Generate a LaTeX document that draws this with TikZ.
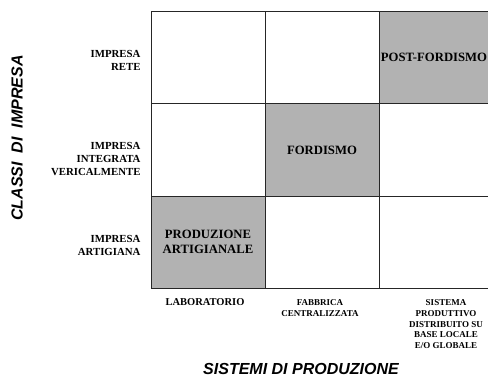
\documentclass[tikz,border=0pt]{standalone}
\usepackage{fontspec}
\setmainfont{Liberation Serif}
\newfontfamily\axisfont{Liberation Sans}
\usetikzlibrary{positioning}

\begin{document}
\begin{tikzpicture}[x=1pt, y=-1pt,
		cell/.style={draw=black!85, line width=0.8pt},
		shaded/.style={cell, fill=black!30},
		celltext/.style={font=\bfseries\fontsize{12.7}{15}\selectfont, align=center},
		rowlabel/.style={font=\bfseries\fontsize{10.8}{13}\selectfont, align=right, anchor=east},
		collabel/.style={font=\bfseries\fontsize{9}{10.8}\selectfont, align=center, anchor=north},
		axistitle/.style={font=\axisfont\bfseries\itshape\fontsize{16}{18}\selectfont}]
			%%%%% START %%%%%
			\useasboundingbox (0, 0) rectangle (488, 379);
			
			\draw[cell] (151, 11) rectangle (265, 103);
			\draw[cell] (265, 11) rectangle (379, 103);
			\draw[shaded] (379, 11) rectangle (493, 103);
			
			\draw[cell] (151, 103) rectangle (265, 196);
			\draw[shaded] (265, 103) rectangle (379, 196);
			\draw[cell] (379, 103) rectangle (493, 196);
			
			\draw[shaded] (151, 196) rectangle (265, 288);
			\draw[cell] (265, 196) rectangle (379, 288);
			\draw[cell] (379, 196) rectangle (493, 288);
			
			\node[celltext] (postford) at (434, 57) {POST-FORDISMO};
			\node[celltext] (ford) at (322, 150) {FORDISMO};
			\node[celltext] (artig) at (208, 242) {PRODUZIONE\\ARTIGIANALE};
			
			\node[rowlabel] (rete) at (144, 60) {IMPRESA\\RETE};
			\node[rowlabel] (integrata) at (144, 159) {IMPRESA\\INTEGRATA\\VERICALMENTE};
			\node[rowlabel] (artigiana) at (144, 245) {IMPRESA\\ARTIGIANA};
			
			\node[collabel, font=\bfseries\fontsize{10.5}{12}\selectfont] (lab) at (205, 295) {LABORATORIO};
			\node[collabel] (fabbrica) at (320, 296) {FABBRICA\\CENTRALIZZATA};
			\node[collabel] (sistema) at (446, 296) {SISTEMA\\PRODUTTIVO\\DISTRIBUITO SU\\BASE LOCALE\\E/O GLOBALE};
			
			\node[axistitle] (sistemi) at (301, 369) {SISTEMI DI PRODUZIONE};
			\node[axistitle, rotate=90] (classi) at (17, 138) {CLASSI\ \ DI\ \ IMPRESA};
			%%%%% END %%%%%
\end{tikzpicture}
\end{document}
